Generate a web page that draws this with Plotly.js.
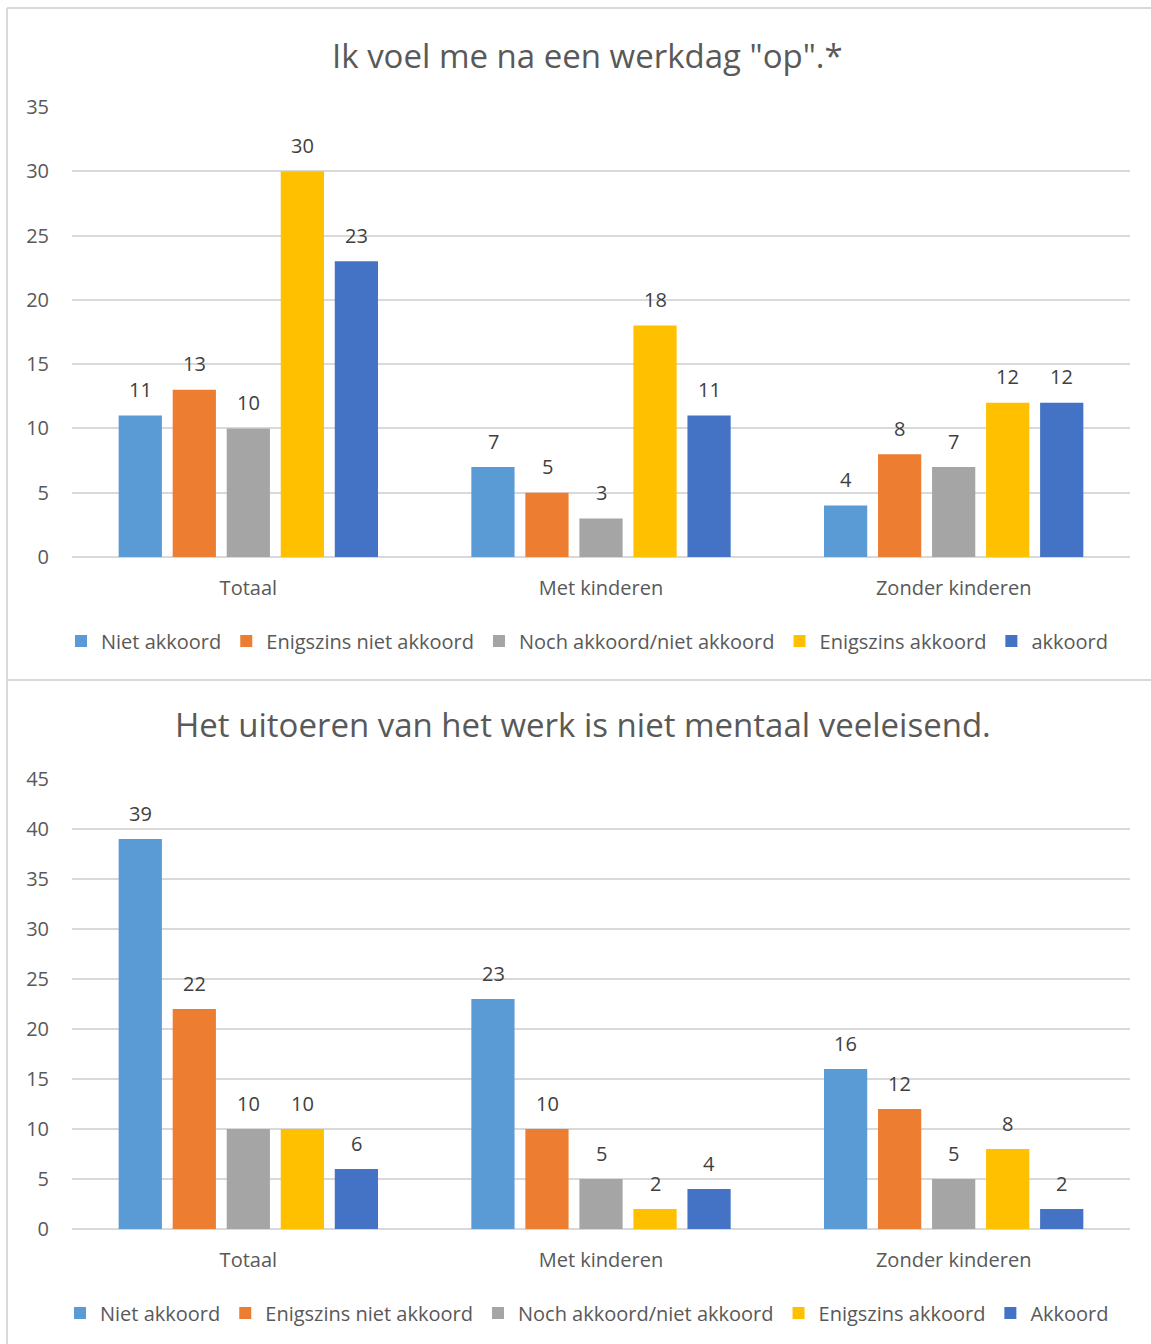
<!DOCTYPE html>
<html>
<head>
<meta charset="utf-8">
<script src="https://cdn.plot.ly/plotly-3.0.1.min.js"></script>
<style>
  html, body { margin: 0; padding: 0; background: #ffffff; }
  #chart { width: 1151px; height: 1344px; }
</style>
</head>
<body>
<div id="chart"></div>
<script>
// Survey categories (shared by both charts)
const categories = ["Totaal", "Met kinderen", "Zonder kinderen"];

// Chart 1: "Ik voel me na een werkdag "op".*"
const title1 = 'Ik voel me na een werkdag "op".*';
const series1Names = ["Niet akkoord", "Enigszins niet akkoord", "Noch akkoord/niet akkoord", "Enigszins akkoord", "akkoord"];
const op_nietAkkoord = [11, 7, 4];
const op_enigszinsNiet = [13, 5, 8];
const op_noch = [10, 3, 7];
const op_enigszins = [30, 18, 12];
const op_akkoord = [23, 11, 12];
const yTicks1 = [0, 5, 10, 15, 20, 25, 30, 35];

// Chart 2: "Het uitoeren van het werk is niet mentaal veeleisend."
const title2 = "Het uitoeren van het werk is niet mentaal veeleisend.";
const series2Names = ["Niet akkoord", "Enigszins niet akkoord", "Noch akkoord/niet akkoord", "Enigszins akkoord", "Akkoord"];
const mentaal_nietAkkoord = [39, 23, 16];
const mentaal_enigszinsNiet = [22, 10, 12];
const mentaal_noch = [10, 5, 5];
const mentaal_enigszins = [10, 2, 8];
const mentaal_akkoord = [6, 4, 2];
const yTicks2 = [0, 5, 10, 15, 20, 25, 30, 35, 40, 45];

const colors = ["#5B9BD5", "#ED7D31", "#A5A5A5", "#FFC000", "#4472C4"];
const FONT = "'Open Sans', 'Noto Sans', sans-serif";
const TEXT = "#595959";
const GRID = "#d9d9d9";

const W = 1151, H = 1344;
const px = x => x / W;
const py = y => 1 - y / H;

const set1 = [op_nietAkkoord, op_enigszinsNiet, op_noch, op_enigszins, op_akkoord];
const set2 = [mentaal_nietAkkoord, mentaal_enigszinsNiet, mentaal_noch, mentaal_enigszins, mentaal_akkoord];

const traces = [];
const annotations = [];
// slot offset (px) of each bar inside its category group
const slot = 54;

function addChart(values, names, xa, ya, legendId) {
  values.forEach((vals, i) => {
    traces.push({
      type: "bar",
      x: categories,
      y: vals,
      name: names[i],
      marker: { color: colors[i] },
      xaxis: xa, yaxis: ya,
      legend: legendId,
      hoverinfo: "x+y+name"
    });
    // value labels above each bar
    vals.forEach((v, j) => {
      annotations.push({
        xref: xa, yref: ya,
        x: categories[j], y: v,
        text: String(v),
        showarrow: false,
        xshift: (i - 2) * slot,
        yshift: 26,
        yanchor: "middle",
        font: { family: FONT, size: 20, color: "#404040" }
      });
    });
  });
}

addChart(set1, series1Names, "x", "y", "legend");
addChart(set2, series2Names, "x2", "y2", "legend2");

annotations.push({
  xref: "paper", yref: "paper", x: px(587), y: py(55),
  text: title1, showarrow: false, xanchor: "center", yanchor: "middle",
  font: { family: FONT, size: 33, color: TEXT }
});
annotations.push({
  xref: "paper", yref: "paper", x: px(583), y: py(724),
  text: title2, showarrow: false, xanchor: "center", yanchor: "middle",
  font: { family: FONT, size: 33, color: TEXT }
});

const xAxisBase = {
  type: "category",
  domain: [px(72), px(1130)],
  showgrid: false,
  showline: false,
  zeroline: false,
  ticks: "",
  ticklabelstandoff: 17,
  tickfont: { family: FONT, size: 20, color: TEXT },
  fixedrange: true
};
const yAxisBase = {
  showgrid: true,
  gridcolor: GRID,
  gridwidth: 1.5,
  zeroline: true,
  zerolinecolor: GRID,
  zerolinewidth: 1.5,
  showline: false,
  ticks: "",
  ticklabelstandoff: 22,
  tickfont: { family: FONT, size: 20, color: TEXT },
  fixedrange: true
};

const legendBase = {
  orientation: "h",
  xanchor: "center",
  yanchor: "middle",
  font: { family: FONT, size: 20, color: TEXT },
  itemwidth: 30,
  bgcolor: "rgba(0,0,0,0)",
  itemclick: false,
  itemdoubleclick: false
};

// chart frame: top edge, left edge and the divider between the two charts
const lineStyle = { color: "#d9d9d9", width: 2 };
const shapes = [
  { type: "line", xref: "paper", yref: "paper", x0: px(7), x1: 1, y0: py(8), y1: py(8), line: lineStyle },
  { type: "line", xref: "paper", yref: "paper", x0: px(7), x1: px(7), y0: py(8), y1: 0, line: lineStyle },
  { type: "line", xref: "paper", yref: "paper", x0: px(7), x1: 1, y0: py(680), y1: py(680), line: lineStyle }
];

const layout = {
  width: W, height: H,
  margin: { l: 0, r: 0, t: 0, b: 0 },
  paper_bgcolor: "#ffffff",
  plot_bgcolor: "#ffffff",
  barmode: "group",
  bargap: 0.234,
  bargroupgap: 0.2,
  font: { family: FONT, color: TEXT },
  xaxis: Object.assign({}, xAxisBase, { anchor: "y" }),
  xaxis2: Object.assign({}, xAxisBase, { anchor: "y2" }),
  yaxis: Object.assign({}, yAxisBase, { domain: [py(557), py(107)], range: [0, 35], tickvals: yTicks1, anchor: "x" }),
  yaxis2: Object.assign({}, yAxisBase, { domain: [py(1229), py(779)], range: [0, 45], tickvals: yTicks2, anchor: "x2" }),
  legend: Object.assign({}, legendBase, { x: px(587), y: py(641) }),
  legend2: Object.assign({}, legendBase, { x: px(587), y: py(1313) }),
  annotations: annotations,
  shapes: shapes,
  showlegend: true
};

Plotly.newPlot("chart", traces, layout, { displayModeBar: false });
</script>
</body>
</html>
